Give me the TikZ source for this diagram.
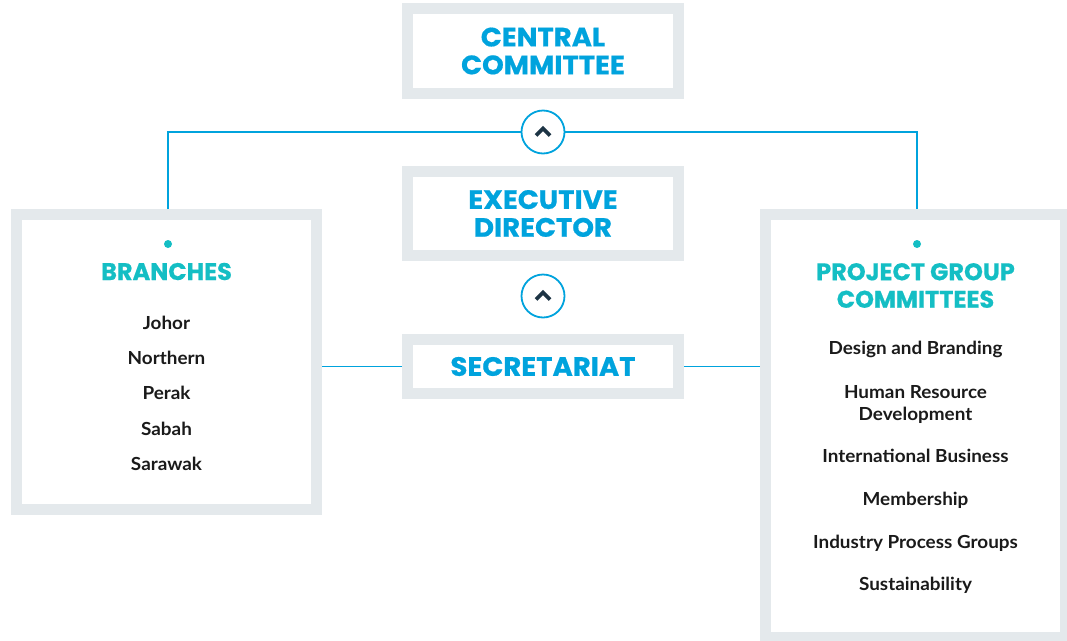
\documentclass[tikz,border=0pt]{standalone}
\usepackage{fontspec}
\setmainfont{Lato}[FakeStretch=1.05]
\newfontfamily\headfont{Poppins}[FakeBold=0.6]
\newfontfamily\headwide{Poppins}[FakeStretch=1.04, FakeBold=0.6]
\definecolor{hblue}{HTML}{00A3DD}
\definecolor{hteal}{HTML}{14BEC4}
\definecolor{boxgray}{HTML}{E4E9EC}
\definecolor{navy}{HTML}{1D3445}
\definecolor{txt}{HTML}{1A1A1A}
\begin{document}
\begin{tikzpicture}[x=1pt,y=-1pt,
  box/.style={draw=boxgray, line width=11pt, fill=white, inner sep=0pt, align=center,
    font=\headwide\bfseries\fontsize{26.5}{27.8}\selectfont, text=hblue},
  conn/.style={draw=hblue, line width=1.6pt},
  ring/.style={circle, draw=hblue, line width=1.8pt, fill=white, minimum size=43pt, inner sep=0pt},
  chev/.style={draw=navy, line width=3.6pt},
  item/.style={font=\bfseries\fontsize{18}{22}\selectfont, text=txt, align=center, inner sep=0pt},
  head/.style={font=\headfont\bfseries\fontsize{24}{27.5}\selectfont, text=hteal, align=center, inner sep=0pt},
  dot/.style={circle, fill=hteal, minimum size=8pt, inner sep=0pt}]
\clip (0,0) rectangle (1067,640);
\fill[white] (0,0) rectangle (1067,640);
% boxes
\node[box, minimum width=271pt, minimum height=85pt] (central) at (543,51) {CENTRAL\\COMMITTEE};
\node[box, minimum width=271pt, minimum height=84pt] (exec) at (543,213.5) {EXECUTIVE\\DIRECTOR};
\node[box, minimum width=271pt, minimum height=54pt] (sec) at (543,366.5) {SECRETARIAT};
\node[box, minimum width=300pt, minimum height=295pt] (branches) at (166.5,362) {};
\node[box, minimum width=300pt, minimum height=423pt] (project) at (915.5,426) {};
% rings
\node[ring] (c1) at (543,132) {};
\node[ring] (c2) at (543,296) {};
\foreach \c in {c1,c2}{
  \draw[chev] ([shift={(-7,3.5)}]\c.center) -- ([shift={(0,-3.5)}]\c.center) -- ([shift={(7,3.5)}]\c.center);
}
% connectors
\draw[conn] ([xshift=1.5pt]branches.north) |- (c1.west);
\draw[conn] (c1.east) -| ([xshift=1.5pt]project.north);
\draw[conn] (sec.west) -- (sec.west -| branches.east);
\draw[conn] (sec.east) -- (sec.east -| project.west);
% branches content
\node[dot] (bdot) at (168,244) {};
\node[head, anchor=base] (bhead) at (166.5,280) {BRANCHES};
\node[item, anchor=base] (b1) at (166.5,329.3) {Johor};
\node[item, anchor=base] (b2) at (166.5,364.3) {Northern};
\node[item, anchor=base] (b3) at (166.5,399.3) {Perak};
\node[item, anchor=base] (b4) at (166.5,435.3) {Sabah};
\node[item, anchor=base] (b5) at (166.5,470.3) {Sarawak};
% project content
\node[dot] (pdot) at (917,244) {};
\node[head] (phead) at (915.5,285.5) {PROJECT GROUP\\COMMITTEES};
\node[item, anchor=base] (p1) at (915.5,354.3) {Design and Branding};
\node[item] (p2) at (915.5,404) {Human Resource\\Development};
\node[item, anchor=base] (p3) at (915.5,462.3) {International Business};
\node[item, anchor=base] (p4) at (915.5,505.3) {Membership};
\node[item, anchor=base] (p5) at (915.5,548.3) {Industry Process Groups};
\node[item, anchor=base] (p6) at (915.5,590.3) {Sustainability};
\end{tikzpicture}
\end{document}
